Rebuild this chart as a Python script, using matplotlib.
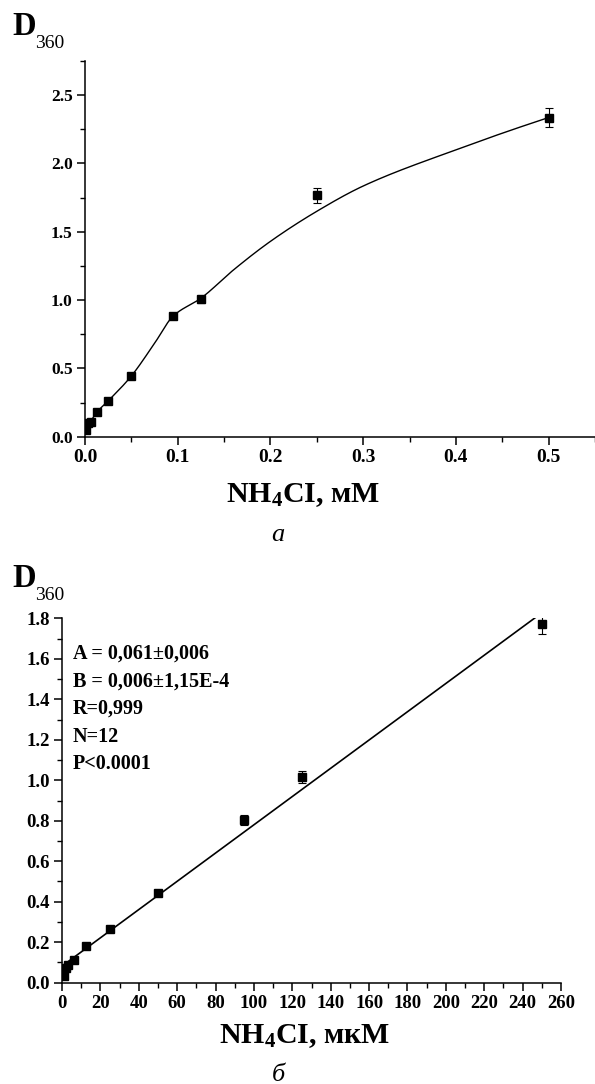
import numpy as np
import matplotlib
matplotlib.use('Agg')
import matplotlib.pyplot as plt
from matplotlib.ticker import MultipleLocator, FormatStrFormatter

plt.rcParams['font.family'] = ['Liberation Serif', 'DejaVu Serif']
plt.rcParams['font.weight'] = 'bold'
plt.rcParams['mathtext.fontset'] = 'custom'
plt.rcParams['mathtext.rm'] = 'Liberation Serif:bold'
plt.rcParams['mathtext.bf'] = 'Liberation Serif:bold'
plt.rcParams['mathtext.it'] = 'Liberation Serif:bold:italic'

# ---------------- Panel a data (mM) ----------------
conc_mM = [0.001, 0.0036, 0.006, 0.0126, 0.0252, 0.0497, 0.0954, 0.1253, 0.25, 0.5]
d360_a = [0.05, 0.098, 0.11, 0.178, 0.263, 0.442, 0.885, 1.007, 1.768, 2.336]
err_a = [0.01, 0.01, 0.01, 0.01, 0.01, 0.015, 0.02, 0.025, 0.054, 0.07]

# smooth curve knots
curve_x = [0.001, 0.006, 0.0126, 0.0252, 0.0497, 0.0737, 0.0954, 0.1253, 0.16, 0.2, 0.25, 0.3, 0.4, 0.5]
curve_y = [0.05, 0.11, 0.178, 0.263, 0.442, 0.670, 0.885, 1.015, 1.22, 1.43, 1.65, 1.835, 2.10, 2.336]

# ---------------- Panel b data (uM) ----------------
conc_uM = [1, 2, 3, 6, 12.5, 25, 50, 95, 125, 250]
d360_b = [0.033, 0.071, 0.087, 0.112, 0.18, 0.265, 0.445, 0.804, 1.015, 1.774]
err_b = [0.01, 0.01, 0.01, 0.01, 0.01, 0.01, 0.012, 0.024, 0.03, 0.05]
fit_intercept = 0.082
fit_slope = 0.00698
fit_text = ["A = 0,061\u00b10,006", "B = 0,006\u00b11,15E-4", "R=0,999", "N=12", "P<0.0001"]

W, H = 595, 1084
fig = plt.figure(figsize=(W / 100, H / 100), dpi=100)


def pchip(x, y, xs):
    x = np.asarray(x, float); y = np.asarray(y, float)
    h = np.diff(x); delta = np.diff(y) / h
    n = len(x)
    d = np.zeros(n)
    for k in range(1, n - 1):
        if delta[k - 1] * delta[k] > 0:
            w1 = 2 * h[k] + h[k - 1]; w2 = h[k] + 2 * h[k - 1]
            d[k] = (w1 + w2) / (w1 / delta[k - 1] + w2 / delta[k])
    d[0] = ((2 * h[0] + h[1]) * delta[0] - h[0] * delta[1]) / (h[0] + h[1])
    d[-1] = ((2 * h[-1] + h[-2]) * delta[-1] - h[-1] * delta[-2]) / (h[-1] + h[-2])
    idx = np.clip(np.searchsorted(x, xs) - 1, 0, n - 2)
    t = (xs - x[idx]) / h[idx]
    h00 = 2 * t**3 - 3 * t**2 + 1; h10 = t**3 - 2 * t**2 + t
    h01 = -2 * t**3 + 3 * t**2; h11 = t**3 - t**2
    return (h00 * y[idx] + h10 * h[idx] * d[idx] + h01 * y[idx + 1] + h11 * h[idx] * d[idx + 1])


def style_axes(ax, xsize, ysize):
    for s in ['top', 'right']:
        ax.spines[s].set_visible(False)
    for s in ['left', 'bottom']:
        ax.spines[s].set_linewidth(1.1)
    ax.tick_params(which='major', direction='out', length=6, width=1.1, pad=3)
    ax.tick_params(which='minor', direction='out', length=3.5, width=1.0)
    ax.tick_params(axis='x', labelsize=xsize)
    ax.tick_params(axis='y', labelsize=ysize)


def px(x, y):
    return x / W, 1 - y / H

# ---------------- Panel a ----------------
axa = fig.add_axes([85 / W, 1 - 436.7 / H, 510 / W, 375.7 / H])
xs = np.linspace(curve_x[0], curve_x[-1], 800)
axa.plot(xs, pchip(curve_x, curve_y, xs), color='black', lw=1.0)
axa.errorbar(conc_mM, d360_a, yerr=err_a, fmt='s', color='black', ms=5.2,
             ecolor='black', elinewidth=0.8, capsize=3, capthick=0.8)
axa.set_xlim(0, 0.55)
axa.set_ylim(0, 2.75)
axa.xaxis.set_major_locator(MultipleLocator(0.1))
axa.xaxis.set_minor_locator(MultipleLocator(0.05))
axa.yaxis.set_major_locator(MultipleLocator(0.5))
axa.yaxis.set_minor_locator(MultipleLocator(0.25))
axa.xaxis.set_major_formatter(FormatStrFormatter('%.1f'))
axa.yaxis.set_major_formatter(FormatStrFormatter('%.1f'))
style_axes(axa, 14, 12.5)

fig.text(*px(12, 35), 'D', fontsize=23.5, fontweight='bold', va='baseline', ha='left')
fig.text(*px(35, 48), '360', fontsize=14, fontweight='normal', va='baseline', ha='left')
fig.text(*px(303, 501.7), 'NH$_4$CI, мМ', fontsize=21.5, fontweight='bold', va='baseline', ha='center')
fig.text(*px(278, 541), 'а', fontsize=19, style='italic', fontweight='normal', va='baseline', ha='center')

# ---------------- Panel b ----------------
axb = fig.add_axes([62 / W, 1 - 982.7 / H, 499 / W, 364.4 / H])
xl = np.array([0, 260.0])
axb.plot(xl, fit_intercept + fit_slope * xl, color='black', lw=1.2)
axb.errorbar(conc_uM, d360_b, yerr=err_b, fmt='s', color='black', ms=5.2,
             ecolor='black', elinewidth=0.8, capsize=3, capthick=0.8)
axb.set_xlim(0, 260)
axb.set_ylim(0, 1.8)
axb.xaxis.set_major_locator(MultipleLocator(20))
axb.xaxis.set_minor_locator(MultipleLocator(10))
axb.yaxis.set_major_locator(MultipleLocator(0.2))
axb.yaxis.set_minor_locator(MultipleLocator(0.1))
axb.xaxis.set_major_formatter(FormatStrFormatter('%d'))
axb.yaxis.set_major_formatter(FormatStrFormatter('%.1f'))
style_axes(axb, 13.5, 13.5)

for i, t in enumerate(fit_text):
    fig.text(*px(73, 659 + 27.5 * i), t, fontsize=14.5, fontweight='bold', va='baseline', ha='left')

fig.text(*px(12, 586.7), 'D', fontsize=23.5, fontweight='bold', va='baseline', ha='left')
fig.text(*px(35, 600), '360', fontsize=14, fontweight='normal', va='baseline', ha='left')
fig.text(*px(305, 1043), 'NH$_4$CI, мкМ', fontsize=21.5, fontweight='bold', va='baseline', ha='center')
fig.text(*px(278, 1081), 'б', fontsize=19, style='italic', fontweight='normal', va='baseline', ha='center')

fig.savefig('out.png', dpi=100)
